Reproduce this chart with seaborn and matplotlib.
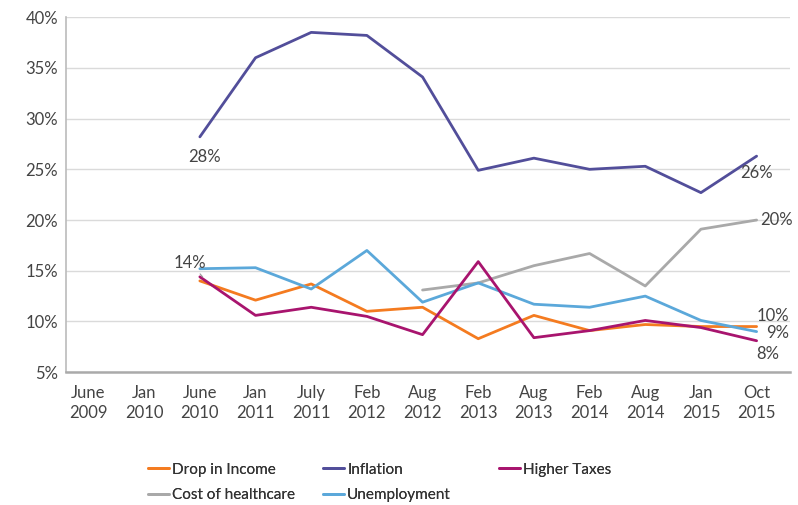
import numpy as np
import pandas as pd
import matplotlib
matplotlib.use("Agg")
import matplotlib.pyplot as plt
import seaborn as sns

categories = ["June\n2009", "Jan\n2010", "June\n2010", "Jan\n2011", "July\n2011", "Feb\n2012",
              "Aug\n2012", "Feb\n2013", "Aug\n2013", "Feb\n2014", "Aug\n2014", "Jan\n2015", "Oct\n2015"]
nan = np.nan
drop_in_income = [nan, nan, 14.0, 12.1, 13.7, 11.0, 11.4, 8.3, 10.6, 9.1, 9.7, 9.5, 9.5]
inflation = [nan, nan, 28.2, 36.0, 38.5, 38.2, 34.1, 24.9, 26.1, 25.0, 25.3, 22.7, 26.3]
higher_taxes = [nan, nan, 14.4, 10.6, 11.4, 10.5, 8.7, 15.9, 8.4, 9.1, 10.1, 9.4, 8.1]
cost_of_healthcare = [nan, nan, nan, nan, nan, nan, 13.1, 13.8, 15.5, 16.7, 13.5, 19.1, 20.0]
unemployment = [nan, nan, 15.2, 15.3, 13.2, 17.0, 11.9, 13.8, 11.7, 11.4, 12.5, 10.1, 9.0]

series = {
    "Drop in Income": drop_in_income,
    "Inflation": inflation,
    "Higher Taxes": higher_taxes,
    "Cost of healthcare": cost_of_healthcare,
    "Unemployment": unemployment,
}
colors = {
    "Drop in Income": "#F47B20",
    "Inflation": "#524E9A",
    "Higher Taxes": "#A8146E",
    "Cost of healthcare": "#A9A9A9",
    "Unemployment": "#5BA8DA",
}

rows = []
for name, vals in series.items():
    for i, v in enumerate(vals):
        rows.append({"idx": i, "value": v, "series": name})
df = pd.DataFrame(rows).dropna()

sns.set_theme(style="white")
plt.rcParams["font.family"] = ["Lato", "DejaVu Sans"]

fig = plt.figure(figsize=(7.98, 5.05), dpi=100)
ax = fig.add_axes([0.083, 0.263, 0.907, 0.703])

order = ["Drop in Income", "Cost of healthcare", "Inflation", "Unemployment", "Higher Taxes"]
sns.lineplot(data=df, x="idx", y="value", hue="series", hue_order=order,
             palette=colors, linewidth=2, ax=ax, legend=True, sort=False, estimator=None)

ax.set_xlim(-0.4, 12.6)
ax.set_ylim(5, 40)
ax.set_yticks(np.arange(5, 41, 5))
ax.set_yticklabels([f"{int(t)}%" for t in np.arange(5, 41, 5)], fontsize=12, color="#444444")
ax.set_xticks(range(len(categories)))
ax.set_xticklabels(categories, fontsize=12, color="#444444", linespacing=1.3)
ax.tick_params(axis="x", length=0, pad=9)
ax.tick_params(axis="y", length=0, pad=6)
ax.set_xlabel("")
ax.set_ylabel("")
ax.grid(axis="y", color="#DADADA", linewidth=1)
ax.set_axisbelow(True)
for s in ["top", "right"]:
    ax.spines[s].set_visible(False)
ax.spines["left"].set_color("#BBBBBB")
ax.spines["left"].set_linewidth(1.2)
ax.spines["bottom"].set_color("#AAAAAA")
ax.spines["bottom"].set_linewidth(1.8)

tc = "#444444"
fs = 12
ax.text(2.08, 27.0, "28%", ha="center", va="top", fontsize=fs, color=tc)
ax.annotate("14%", xy=(2.05, 14.4), xytext=(1.83, 15.8), ha="center", va="center",
            fontsize=fs, color=tc,
            arrowprops=dict(arrowstyle="-", color="#999999", lw=0.8, shrinkA=3, shrinkB=0))
ax.text(12.0, 24.6, "26%", ha="center", va="center", fontsize=fs, color=tc)
ax.text(12.07, 20.0, "20%", ha="left", va="center", fontsize=fs, color=tc)
ax.text(12.3, 10.5, "10%", ha="center", va="center", fontsize=fs, color=tc)
ax.text(12.37, 8.9, "9%", ha="center", va="center", fontsize=fs, color=tc)
ax.text(12.2, 6.8, "8%", ha="center", va="center", fontsize=fs, color=tc)

handles, labels = ax.get_legend_handles_labels()
hmap = dict(zip(labels, handles))
ax.get_legend().remove()
columns = [(["Drop in Income", "Cost of healthcare"], 147),
           (["Inflation", "Unemployment"], 322),
           (["Higher Taxes"], 498)]
W, H = 798, 505
for names, xpx in columns:
    leg = fig.legend([hmap[n] for n in names], names, loc="upper left",
                     bbox_to_anchor=(xpx / W - 0.0125, 1 - 452 / H), bbox_transform=fig.transFigure,
                     frameon=False, fontsize=11, handlelength=1.4, handletextpad=0.2,
                     labelspacing=0.75, labelcolor="#333333", borderpad=0.2)
    fig.add_artist(leg)

fig.savefig("out.png", dpi=100)
